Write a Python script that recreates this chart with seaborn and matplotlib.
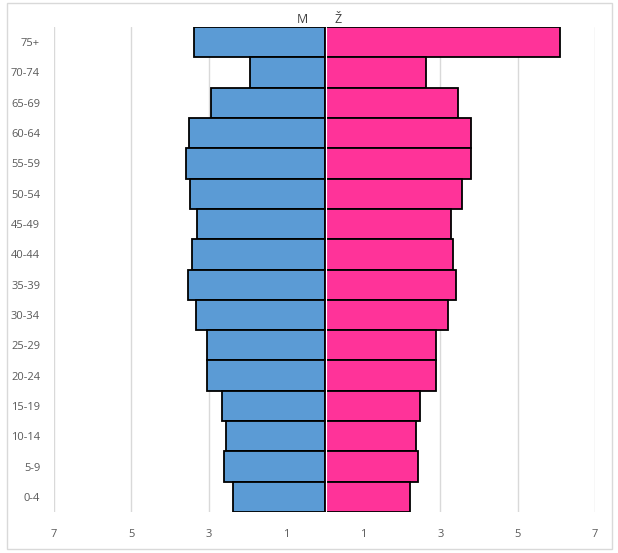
import pandas as pd
import numpy as np
import matplotlib.pyplot as plt
import seaborn as sns
from matplotlib.patches import Rectangle

# age groups, top to bottom
age_groups = ["75+", "70-74", "65-69", "60-64", "55-59", "50-54", "45-49", "40-44",
              "35-39", "30-34", "25-29", "20-24", "15-19", "10-14", "5-9", "0-4"]
# share of population (%)
male = [3.39, 1.94, 2.95, 3.50, 3.58, 3.47, 3.30, 3.42,
        3.52, 3.32, 3.03, 3.03, 2.64, 2.54, 2.59, 2.36]
female = [6.09, 2.62, 3.45, 3.80, 3.80, 3.56, 3.27, 3.33,
          3.40, 3.20, 2.89, 2.89, 2.47, 2.37, 2.42, 2.21]
x_ticks = [-7, -5, -3, -1, 1, 3, 5, 7]

df = pd.DataFrame({"age": age_groups, "M": -np.array(male), "Ž": female})

sns.set_style("white")
plt.rcParams["font.family"] = ["Open Sans", "DejaVu Sans"]

fig = plt.figure(figsize=(6.18, 5.53), dpi=100)
ax = fig.add_axes([54 / 618, 1 - 512 / 553, (595 - 54) / 618, (512 - 27) / 553])

sns.barplot(data=df, y="age", x="M", order=age_groups, color="#5B9BD5",
            edgecolor="black", linewidth=1.3, width=1.0, saturation=1, ax=ax)
sns.barplot(data=df, y="age", x="Ž", order=age_groups, color="#FF3399",
            edgecolor="black", linewidth=1.3, width=1.0, saturation=1, ax=ax)

ax.set_xlim(-7, 7)
ax.set_ylim(len(age_groups) - 0.5, -0.5)
ax.set_xticks(x_ticks)
ax.set_xticklabels([str(abs(t)) for t in x_ticks])
ax.grid(axis="x", color="#D9D9D9", linewidth=1)
ax.set_axisbelow(True)
for s in ax.spines.values():
    s.set_visible(False)
ax.tick_params(axis="both", length=0, labelsize=8, labelcolor="#595959")
ax.tick_params(axis="x", pad=12)
ax.tick_params(axis="y", pad=10)
ax.set_xlabel("")
ax.set_ylabel("")

# thin white seam at the centre, as in the reference
ax.axvline(0.03, color="white", linewidth=0.8, zorder=5)

# series names above the center
ax.text(-0.57, -0.54, "M", ha="center", va="bottom", fontsize=9, color="#404040")
ax.text(0.34, -0.54, "Ž", ha="center", va="bottom", fontsize=9, color="#404040")

# chart area border
fig.patches.append(Rectangle((7 / 618, 1 - 549 / 553), 605 / 618, 546 / 553,
                             transform=fig.transFigure, fill=False,
                             edgecolor="#D9D9D9", linewidth=1))

fig.savefig("out.png", dpi=100)
